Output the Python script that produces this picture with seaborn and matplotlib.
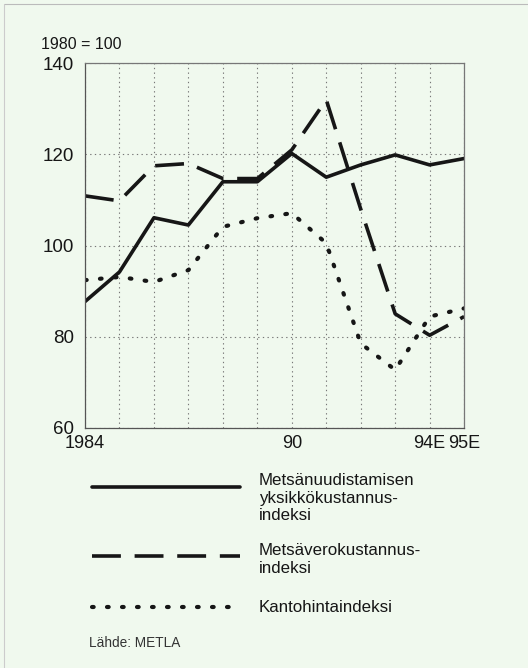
import pandas as pd
import matplotlib.pyplot as plt
import seaborn as sns
from matplotlib.lines import Line2D

# Data (1980 = 100)
years = list(range(1984, 1996))
uudistus = [87.7, 94.2, 106.1, 104.5, 114.0, 114.0, 120.2, 115.0, 117.7, 119.9, 117.7, 119.1]
verotus = [110.9, 109.8, 117.5, 118.0, 114.7, 114.7, 121.0, 132.0, 108.0, 85.0, 80.3, 84.4]
kanto = [92.4, 93.1, 92.0, 94.6, 104.1, 106.0, 107.1, 100.5, 78.5, 72.7, 84.4, 86.2]

x_ticks = [1984, 1990, 1994, 1995]
x_labels = ['1984', '90', '94E', '95E']
y_ticks = [60, 80, 100, 120, 140]

df = pd.DataFrame({'Vuosi': years, 'uudistus': uudistus,
                   'verotus': verotus, 'kanto': kanto})

bg = '#f0f9ee'
sns.set_style('white', {'axes.facecolor': bg, 'figure.facecolor': bg})
plt.rcParams['font.family'] = ['Liberation Sans', 'DejaVu Sans']

fig = plt.figure(figsize=(5.28, 6.68), dpi=100)
ax = fig.add_axes([0.161, 0.3597, 0.718, 0.5455])

ink = '#161616'
lw = 2.6
dash = (0, (8.0, 3.8))
dot = (0, (0.4, 3.2))

sns.lineplot(data=df, x='Vuosi', y='uudistus', ax=ax, color=ink, lw=lw)
sns.lineplot(data=df, x='Vuosi', y='verotus', ax=ax, color=ink, lw=lw,
             linestyle=dash)
sns.lineplot(data=df, x='Vuosi', y='kanto', ax=ax, color=ink, lw=3.0,
             linestyle=dot, dash_capstyle='round')

ax.set_xlim(1984, 1995)
ax.set_ylim(60, 140)
ax.set_xticks(years)
ax.set_xticklabels([x_labels[x_ticks.index(y)] if y in x_ticks else '' for y in years])
ax.set_yticks(y_ticks)
ax.set_xlabel('')
ax.set_ylabel('')
ax.grid(True, linestyle=(0, (1.2, 3)), color='#777777', lw=0.8)
for s in ax.spines.values():
    s.set_color('#777777')
    s.set_linewidth(0.9)
ax.spines['left'].set_color('#555555')
ax.spines['bottom'].set_color('#555555')
ax.tick_params(axis='y', direction='out', length=7, width=0.9, color='#555555',
               labelsize=13.5, pad=1, labelcolor=ink)
ax.tick_params(axis='x', direction='inout', length=10, width=0.9, color='#555555',
               labelsize=13, pad=0, labelcolor=ink)

fig.text(0.078, 0.933, '1980 = 100', fontsize=11.5, color=ink, va='center')

# Legend drawn by hand
W, H = 528, 668
def hline(y, ls, lw_, cap='butt'):
    fig.add_artist(Line2D([92 / W, 240 / W], [1 - y / H, 1 - y / H], color=ink,
                          lw=lw_, linestyle=ls, dash_capstyle=cap))

hline(487, '-', lw)
hline(556, dash, lw)
hline(607, (0, (0.4, 3.2)), 3.0, 'round')

tx = 259 / W
fs = 12.2
fig.text(tx, 1 - 473 / H, 'Metsänuudistamisen\nyksikkökustannus-\nindeksi',
         fontsize=fs, va='top', linespacing=1.22, color=ink)
fig.text(tx, 1 - 543 / H, 'Metsäverokustannus-\nindeksi',
         fontsize=fs, va='top', linespacing=1.22, color=ink)
fig.text(tx, 1 - 607 / H, 'Kantohintaindeksi',
         fontsize=fs, va='center', color=ink)
fig.text(89 / W, 1 - 643 / H, 'Lähde: METLA', fontsize=9.8, va='center', color='#333333')

# thin frame of the scanned page
fig.add_artist(Line2D([4 / W, 1], [1 - 4 / H, 1 - 4 / H], color='#bbbbbb', lw=0.8))
fig.add_artist(Line2D([4 / W, 4 / W], [0, 1 - 4 / H], color='#cccccc', lw=0.8))

fig.savefig('out.png', dpi=100, facecolor=bg)
